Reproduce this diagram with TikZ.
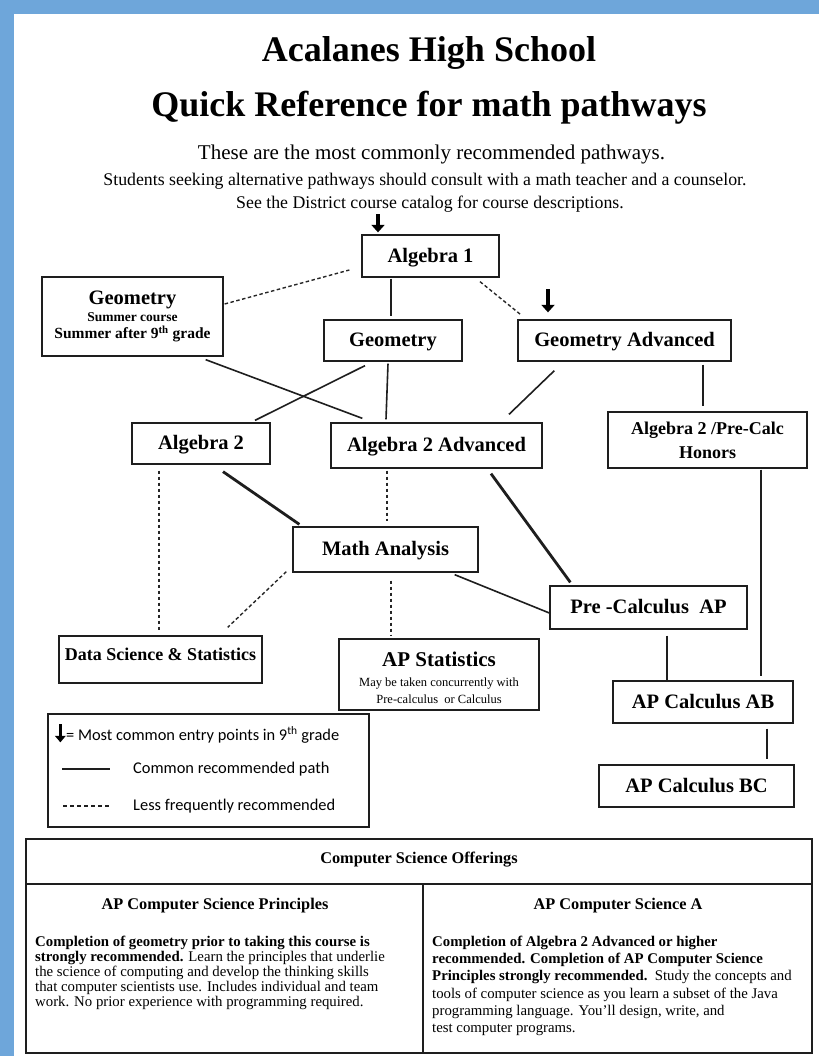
\documentclass[tikz,border=0pt]{standalone}
\usepackage{fontspec}
\setmainfont{Liberation Serif}
\newfontfamily\calibrifont{Carlito}
\usetikzlibrary{arrows.meta}
\definecolor{bordblue}{RGB}{110,166,218}
\definecolor{ink}{RGB}{30,30,30}
\begin{document}
\begin{tikzpicture}[x=1pt,y=-1pt,
  box/.style={draw=ink, line width=1.3pt, inner sep=0pt, align=center,
    font={\fontsize{20.5}{24}\selectfont\bfseries}, text=black},
  sbox/.style={box, text height=15pt, text depth=3pt},
  thicklink/.style={draw=ink, line width=2.8pt},
  thinlink/.style={draw=ink, line width=1.6pt},
  dashlink/.style={draw=black!85, line width=1.4pt, dash pattern=on 3.5pt off 2.5pt},
  entry/.style={draw=black, line width=3.8pt, -{Triangle[width=13pt,length=7.5pt]}},
  titletext/.style={font={\fontsize{36}{40}\selectfont\bfseries}, anchor=base, inner sep=0pt},
  para/.style={anchor=north west, inner sep=0pt, align=left},
  legtext/.style={anchor=west, inner sep=0pt, font={\calibrifont\fontsize{16.4}{18}\selectfont}},
  tbl/.style={draw=ink, line width=1.4pt}
]
\fill[bordblue] (0,0) rectangle (819,1056);
\fill[white] (14,14) rectangle (819,1056);
\useasboundingbox (0,0) rectangle (819,1056);

% titles
\node[titletext] (t1) at (429,62) {Acalanes High School};
\node[titletext] (t2) at (429,117) {Quick Reference for math pathways};
\node[anchor=base, inner sep=0pt, font={\fontsize{21}{24}\selectfont}] (s1) at (431.5,160) {These are the most commonly recommended pathways.};
\node[anchor=base, inner sep=0pt, font={\fontsize{17.8}{20}\selectfont}] (s2) at (425,186) {Students seeking alternative pathways should consult with a math teacher and a counselor.};
\node[anchor=base, inner sep=0pt, font={\fontsize{17.8}{20}\selectfont}] (s3) at (430,209) {See the District course catalog for course descriptions.};

% course boxes
\node[sbox, minimum width=137pt, minimum height=42pt] (alg1) at (430.5,256) {Algebra 1};
\node[box, minimum width=181pt, minimum height=79pt] (geosum) at (132.5,316.5)
  {Geometry\\[-7.5pt]{\fontsize{13.5}{15}\selectfont Summer course}\\[-6.5pt]{\fontsize{15.5}{17}\selectfont Summer after 9\textsuperscript{th} grade}};
\node[sbox, minimum width=138pt, minimum height=41pt] (geo) at (393,340.5) {Geometry};
\node[sbox, minimum width=213pt, minimum height=41pt] (geoadv) at (624.5,340.5) {Geometry Advanced};
\node[sbox, minimum width=138pt, minimum height=41pt] (alg2) at (201,443.5) {Algebra 2};
\node[sbox, minimum width=211pt, minimum height=45pt] (alg2adv) at (436.5,445.5) {Algebra 2 Advanced};
\node[box, minimum width=199pt, minimum height=56pt, font={\fontsize{18}{24}\selectfont\bfseries}] (honors) at (707.5,440) {Algebra 2 /Pre-Calc\\Honors};
\node[sbox, minimum width=185pt, minimum height=45pt] (mathan) at (385.5,549.5) {Math Analysis};
\node[sbox, minimum width=197pt, minimum height=43pt] (precalc) at (648.5,607.5) {Pre -Calculus\ \ AP};
\node[box, minimum width=203pt, minimum height=47pt, font={\fontsize{18}{22}\selectfont\bfseries}, text height=12pt, text depth=11pt] (datasci) at (160.5,659.5) {Data Science \& Statistics};
\node[box, minimum width=200pt, minimum height=71pt, font={\fontsize{21}{24}\selectfont\bfseries}, text height=57pt, text depth=0pt] (apstat) at (439,674.5)
  {AP Statistics\\[-4pt]{\mdseries\fontsize{12.5}{14}\selectfont May be taken concurrently with}\\[-7pt]{\mdseries\fontsize{12.5}{14}\selectfont Pre-calculus\ \ or Calculus}};
\node[sbox, minimum width=180pt, minimum height=42pt] (calcab) at (703,702) {AP Calculus AB};
\node[sbox, minimum width=195pt, minimum height=42pt] (calcbc) at (696.5,786) {AP Calculus BC};

% entry arrows
\draw[entry] ([shift={(-52.5,-20)}]alg1.north) -- ([shift={(-52.5,-2)}]alg1.north);
\draw[entry] ([shift={(-76.5,-30)}]geoadv.north) -- ([shift={(-76.5,-7)}]geoadv.north);

% connectors
\draw[dashlink] ([shift={(1,-12.5)}]geosum.east) -- ([shift={(-12,14)}]alg1.west);
\draw[thicklink] ([shift={(-39.5,1)}]alg1.south) -- ([shift={(-2,-3)}]geo.north);
\draw[dashlink] ([shift={(49.5,4)}]alg1.south) -- ([shift={(3,-5)}]geoadv.north west);
\draw[thinlink] ([shift={(-28,4)}]geo.south) -- ([shift={(54,-2)}]alg2.north);
\draw[thinlink] ([shift={(-5,2)}]geo.south) -- ([shift={(-50.5,-3)}]alg2adv.north);
\draw[thinlink] ([shift={(-18,3)}]geosum.south east) -- ([shift={(32,-4)}]alg2adv.north west);
\draw[thinlink] ([shift={(37,9)}]geoadv.south west) -- ([shift={(72.5,-8)}]alg2adv.north);
\draw[thicklink] ([shift={(78.5,3)}]geoadv.south) -- ([shift={(-4.5,-5)}]honors.north);
\draw[dashlink] ([shift={(-42,6)}]alg2.south) -- ([shift={(-1.5,-4)}]datasci.north);
\draw[thicklink] ([shift={(22,7)}]alg2.south) -- ([shift={(7,-2)}]mathan.north west);
\draw[dashlink] ([shift={(-49.5,2)}]alg2adv.south) -- ([shift={(1.5,-5)}]mathan.north);
\draw[thicklink] ([shift={(54.5,5)}]alg2adv.south) -- ([shift={(21,-3)}]precalc.north west);
\draw[thinlink] ([shift={(53.5,1)}]honors.south) -- ([shift={(58,-4)}]calcab.north);
\draw[dashlink] ([shift={(-6,-1)}]mathan.south west) -- ([shift={(-35,-8)}]datasci.north east);
\draw[dashlink] ([shift={(5.5,8)}]mathan.south) -- ([shift={(-48,-2)}]apstat.north);
\draw[thinlink] ([shift={(-24,2)}]mathan.south east) -- ([shift={(0,5.5)}]precalc.west);
\draw[thicklink] ([shift={(18.5,6)}]precalc.south) -- ([shift={(-36,0)}]calcab.north);
\draw[thicklink] ([shift={(64,5)}]calcab.south) -- ([shift={(70.5,-5)}]calcbc.north);

% legend
\node[draw=ink, line width=1.3pt, minimum width=321pt, minimum height=113pt, inner sep=0pt] (legend) at (208.5,770.5) {};
\draw[draw=black, line width=3.2pt, -{Triangle[width=10.5pt,length=6.5pt]}] ([shift={(13,11)}]legend.north west) -- ([shift={(13,29)}]legend.north west);
\node[legtext] (lg1) at (66,735) {= Most common entry points in 9\textsuperscript{th} grade};
\draw[draw=ink, line width=1.2pt] (62,769) -- (110,769);
\node[legtext] (lg2) at (133,769) {Common recommended path};
\draw[draw=ink, line width=1.4pt, dash pattern=on 4pt off 3pt] (63,806) -- (110,806);
\node[legtext] (lg3) at (133,806) {Less frequently recommended};

% computer science table
\draw[tbl] (26,839) rectangle (812,1053);
\draw[tbl] (26,884) -- (812,884);
\draw[tbl] (423,884) -- (423,1053);
\node[inner sep=0pt, font={\fontsize{16.3}{18}\selectfont\bfseries}] (cshead) at (419,860) {Computer Science Offerings};
\node[inner sep=0pt, font={\fontsize{16.3}{18}\selectfont\bfseries}] (csp) at (215,906) {AP Computer Science Principles};
\node[inner sep=0pt, font={\fontsize{16.3}{18}\selectfont\bfseries}] (csa) at (618,906) {AP Computer Science A};
\node[para, font={\fontsize{14.8}{15}\selectfont}] (csptext) at (35,935.5)
  {\textbf{Completion of geometry prior to taking this course is}\\
   \textbf{strongly recommended.} Learn the principles that underlie\\
   the science of computing and develop the thinking skills\\
   that computer scientists use. Includes individual and team\\
   work. No prior experience with programming required.};
\node[para, font={\fontsize{14.8}{17.3}\selectfont}] (csatext) at (432,935.5)
  {\textbf{Completion of Algebra 2 Advanced or higher}\\
   \textbf{recommended. Completion of AP Computer Science}\\
   \textbf{Principles strongly recommended.}\ \ Study the concepts and\\
   tools of computer science as you learn a subset of the Java\\
   programming language. You'll design, write, and\\
   test computer programs.};
\end{tikzpicture}
\end{document}
